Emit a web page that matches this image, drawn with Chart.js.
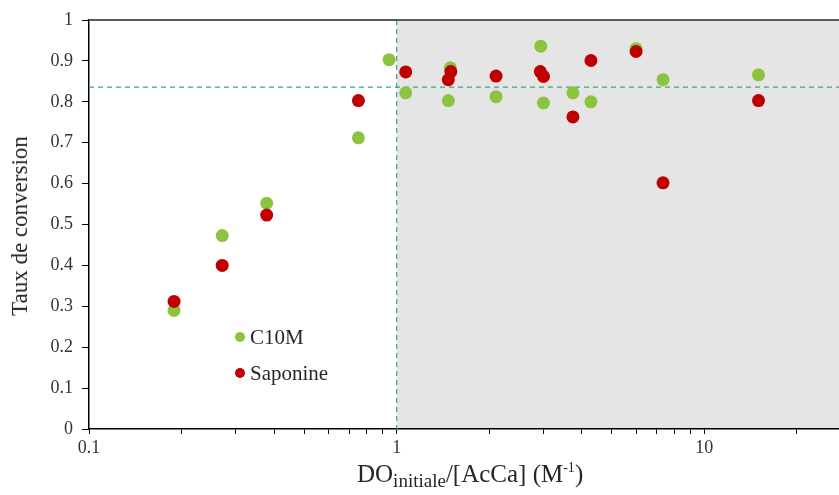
<!DOCTYPE html>
<html>
<head>
<meta charset="utf-8">
<script src="https://cdn.jsdelivr.net/npm/chart.js@4/dist/chart.umd.min.js"></script>
<style>
  body { margin: 0; background: #fff; }
  #wrap { position: relative; width: 839px; height: 495px; overflow: hidden; font-family: 'Liberation Serif', serif; color: #262626; }
  #myChart { position: absolute; left: 0; top: 0; }
  .ytitle { position: absolute; left: 20px; top: 226px; transform: translate(-50%, -50%) rotate(-90deg); font-size: 23px; white-space: nowrap; }
  .xtitle { position: absolute; left: 357px; top: 460px; font-size: 25px; white-space: nowrap; }
  .xtitle sub { font-size: 19px; vertical-align: -5px; }
  .xtitle sup { font-size: 14px; vertical-align: 10px; }
  .legend { position: absolute; left: 235px; font-size: 21px; white-space: nowrap; }
  .legend span { display: inline-block; width: 10px; height: 10px; border-radius: 50%; margin-right: 5px; vertical-align: 2px; }
</style>
</head>
<body>
<div id="wrap">
  <canvas id="myChart" width="846" height="495"></canvas>
  <div class="ytitle">Taux de conversion</div>
  <div class="xtitle">DO<sub>initiale</sub>/[AcCa] (M<sup>-1</sup>)</div>
  <div class="legend" style="top:325px"><span style="background:#8cc43f"></span>C10M</div>
  <div class="legend" style="top:361px"><span style="background:#c00000"></span>Saponine</div>
</div>
<script>
const c10mX = [0.189, 0.271, 0.378, 0.751, 0.945, 1.07, 1.494, 1.472, 2.104, 2.94, 3.0, 3.74, 4.28, 6.0, 7.34, 15];
const c10mY = [0.290, 0.473, 0.552, 0.712, 0.903, 0.822, 0.883, 0.803, 0.8125, 0.936, 0.797, 0.822, 0.800, 0.930, 0.854, 0.866];
const saponineX = [0.189, 0.271, 0.378, 0.751, 1.07, 1.50, 1.472, 2.104, 2.93, 3.0, 3.74, 4.28, 6.0, 7.34, 15];
const saponineY = [0.312, 0.400, 0.523, 0.803, 0.873, 0.874, 0.854, 0.863, 0.874, 0.862, 0.763, 0.901, 0.923, 0.602, 0.803];

const xTicks = [0.1, 0.2, 0.3, 0.4, 0.5, 0.6, 0.7, 0.8, 0.9, 1, 2, 3, 4, 5, 6, 7, 8, 9, 10, 20];
const xLabels = [0.1, 1, 10];
const xMin = 0.1, xMax = 27.5;
const threshX = 1;
const threshY = 0.836;

const toPoints = (xs, ys) => xs.map((x, i) => ({ x: x, y: ys[i] }));

const zonePlugin = {
  id: 'zone',
  beforeDraw(chart) {
    const { ctx, chartArea, scales } = chart;
    const x1 = scales.x.getPixelForValue(threshX);
    ctx.save();
    ctx.fillStyle = '#e5e5e5';
    ctx.fillRect(x1, chartArea.top, chartArea.right - x1, chartArea.bottom - chartArea.top);
    ctx.restore();
  },
  beforeDatasetsDraw(chart) {
    const { ctx, chartArea, scales } = chart;
    const x1 = scales.x.getPixelForValue(threshX);
    const y1 = scales.y.getPixelForValue(threshY);
    ctx.save();
    ctx.strokeStyle = '#3aa686';
    ctx.lineWidth = 1.2;
    ctx.setLineDash([5, 4]);
    ctx.beginPath();
    ctx.moveTo(x1, chartArea.top);
    ctx.lineTo(x1, chartArea.bottom);
    ctx.moveTo(chartArea.left, y1);
    ctx.lineTo(chartArea.right, y1);
    ctx.stroke();
    ctx.setLineDash([]);
    ctx.strokeStyle = '#595959';
    ctx.lineWidth = 2;
    ctx.beginPath();
    ctx.moveTo(chartArea.left, chartArea.top);
    ctx.lineTo(chartArea.right, chartArea.top);
    ctx.stroke();
    ctx.restore();
  }
};

const ctx = document.getElementById('myChart');

new Chart(ctx, {
  type: 'scatter',
  data: {
    datasets: [{
      label: 'C10M',
      data: toPoints(c10mX, c10mY),
      backgroundColor: '#8cc43f',
      borderWidth: 0,
      pointRadius: 6.5,
      order: 1,
    }, {
      label: 'Saponine',
      data: toPoints(saponineX, saponineY),
      backgroundColor: '#c00000',
      borderWidth: 0,
      pointRadius: 6.5,
      order: 0,
    }]
  },
  options: {
    responsive: false,
    animation: false,
    layout: { padding: { top: 20, right: 0, left: 0, bottom: 0 } },
    scales: {
      x: {
        type: 'logarithmic',
        min: xMin,
        max: xMax,
        afterBuildTicks: (scale) => { scale.ticks = xTicks.map(v => ({ value: v })); },
        afterFit: (scale) => { scale.height = 66; scale.paddingRight = 0; scale.paddingLeft = 0; },
        grid: { drawOnChartArea: false, tickLength: 5, color: '#000' },
        border: { color: '#000', width: 1.5 },
        ticks: {
          autoSkip: false,
          maxRotation: 0,
          padding: 3,
          color: '#333',
          font: { family: 'Liberation Serif', size: 18 },
          callback: (v) => xLabels.includes(v) ? String(v) : '',
        },
      },
      y: {
        min: 0,
        max: 1,
        afterFit: (scale) => { scale.width = 89; },
        grid: { drawOnChartArea: false, tickLength: 7, color: '#000' },
        border: { color: '#000', width: 1.5 },
        ticks: {
          stepSize: 0.1,
          padding: 9,
          color: '#333',
          font: { family: 'Liberation Serif', size: 18 },
          callback: (v) => (v === 0 || v === 1) ? String(v) : v.toFixed(1),
        },
      },
    },
    plugins: {
      legend: { display: false },
      tooltip: { enabled: false },
    },
  },
  plugins: [zonePlugin],
});
</script>
</body>
</html>
